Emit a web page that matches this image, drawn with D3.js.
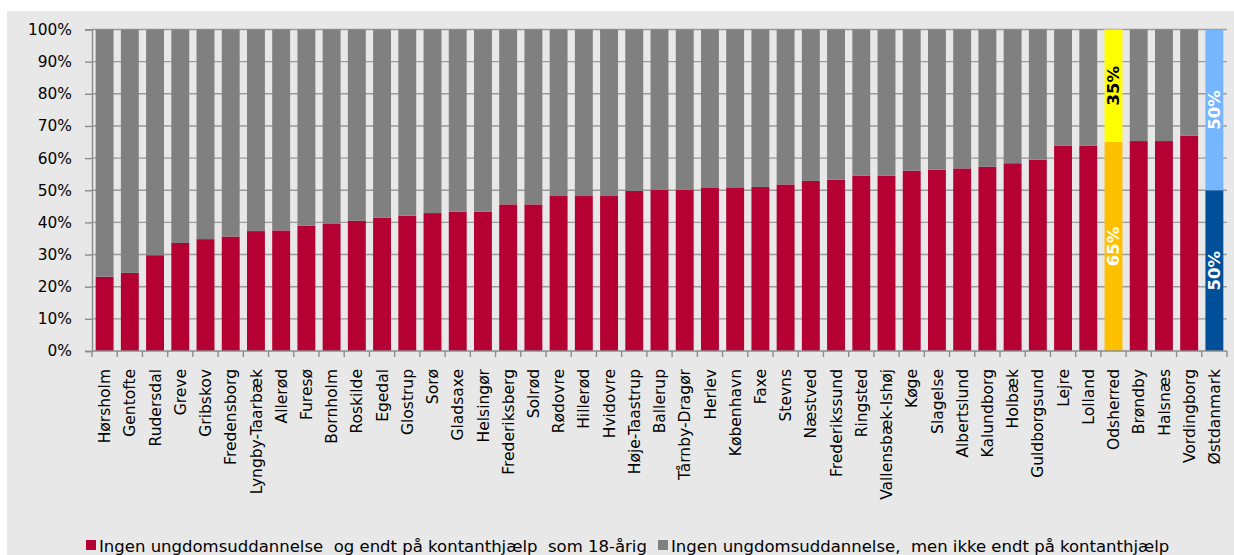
<!DOCTYPE html>
<html><head><meta charset="utf-8">
<script src="https://cdn.jsdelivr.net/npm/d3@7"></script>
<style>
html,body{margin:0;padding:0;background:#fff;}
svg text{font-family:"DejaVu Sans",Verdana,sans-serif;}
</style></head>
<body>
<svg id="c" width="1234" height="555"></svg>
<script>
const categories = ["Hørsholm","Gentofte","Rudersdal","Greve","Gribskov","Fredensborg","Lyngby-Taarbæk","Allerød","Furesø","Bornholm","Roskilde","Egedal","Glostrup","Sorø","Gladsaxe","Helsingør","Frederiksberg","Solrød","Rødovre","Hillerød","Hvidovre","Høje-Taastrup","Ballerup","Tårnby-Dragør","Herlev","København","Faxe","Stevns","Næstved","Frederikssund","Ringsted","Vallensbæk-Ishøj","Køge","Slagelse","Albertslund","Kalundborg","Holbæk","Guldborgsund","Lejre","Lolland","Odsherred","Brøndby","Halsnæs","Vordingborg","Østdanmark"];
const endtKontanthjaelp = [23.1,24.3,29.8,33.6,34.8,35.6,37.3,37.5,39.0,39.5,40.5,41.5,42.1,42.9,43.3,43.3,45.6,45.6,48.2,48.2,48.2,49.8,50.2,50.2,50.7,50.9,51.0,51.8,52.9,53.3,54.5,54.5,56.1,56.4,56.8,57.3,58.4,59.5,63.9,63.9,65.0,65.3,65.3,67.0,50.0];
const ikkeKontanthjaelp = [76.9,75.7,70.2,66.4,65.2,64.4,62.7,62.5,61.0,60.5,59.5,58.5,57.9,57.1,56.7,56.7,54.4,54.4,51.8,51.8,51.8,50.2,49.8,49.8,49.3,49.1,49.0,48.2,47.1,46.7,45.5,45.5,43.9,43.6,43.2,42.7,41.6,40.5,36.1,36.1,35.0,34.7,34.7,33.0,50.0];
const yTicks = [0,10,20,30,40,50,60,70,80,90,100];
const seriesNames = ["Ingen ungdomsuddannelse  og endt på kontanthjælp  som 18-årig","Ingen ungdomsuddannelse,  men ikke endt på kontanthjælp"];
const labeled = {"Odsherred":["65%","35%"],"Østdanmark":["50%","50%"]};

const baseColors = ["#b50034","#808080"];
const specialColors = {"Odsherred":["#ffc000","#ffff00"],"Østdanmark":["#004f98","#75b6ff"]};
const labelColors = {"Odsherred":["#ffffff","#000000"],"Østdanmark":["#ffffff","#ffffff"]};

const svg = d3.select("#c");
svg.append("rect").attr("x",7).attr("y",11).attr("width",1227).attr("height",544).attr("fill","#e8e8e8");

const m = {l:92, r:1227, t:29.5, b:351};
const x = d3.scaleBand().domain(categories).range([m.l,m.r]).paddingInner(0.29).paddingOuter(0.145);
const y = d3.scaleLinear().domain([0,100]).range([m.b,m.t]);

// gridlines
svg.append("g").selectAll("line").data(yTicks.filter(d=>d>0)).join("line")
  .attr("x1",m.l).attr("x2",m.r).attr("y1",d=>y(d)).attr("y2",d=>y(d))
  .attr("stroke","#9a9a9a").attr("stroke-width",1.4);

const stackData = categories.map((c,i)=>({cat:c, v:[endtKontanthjaelp[i], ikkeKontanthjaelp[i]]}));
const g = svg.append("g");
stackData.forEach(d=>{
  let acc=0;
  d.v.forEach((v,s)=>{
    const col = specialColors[d.cat] ? specialColors[d.cat][s] : baseColors[s];
    g.append("rect").attr("x",x(d.cat)).attr("width",x.bandwidth())
      .attr("y",y(acc+v)).attr("height",y(acc)-y(acc+v)).attr("fill",col);
    if(labeled[d.cat]){
      const cx = x(d.cat)+x.bandwidth()/2, cy = y(acc+v/2);
      g.append("text").attr("transform",`translate(${cx},${cy}) rotate(-90)`)
        .attr("text-anchor","middle").attr("dy","0.36em")
        .attr("font-size","16.5px").attr("font-weight","bold")
        .attr("fill",labelColors[d.cat][s]).text(labeled[d.cat][s]);
    }
    acc+=v;
  });
});

// y axis
const ya = svg.append("g").attr("transform",`translate(${m.l},0)`)
  .call(d3.axisLeft(y).tickValues(yTicks).tickFormat(d=>d+"%").tickSize(7).tickPadding(13));
ya.select(".domain").attr("stroke","#8c8c8c").attr("stroke-width",1.4);
ya.selectAll(".tick line").attr("stroke","#8c8c8c").attr("stroke-width",1.4);
ya.selectAll("text").attr("font-size","15.4px").attr("fill","#000").attr("font-family","DejaVu Sans");

// x axis
const xa = svg.append("g").attr("transform",`translate(0,${m.b})`);
xa.append("line").attr("x1",m.l).attr("x2",m.r).attr("stroke","#8c8c8c").attr("stroke-width",1.4);
const bounds = d3.range(categories.length+1).map(i=>m.l + i*x.step());
xa.selectAll(".tk").data(bounds).join("line").attr("class","tk")
  .attr("x1",d=>d).attr("x2",d=>d).attr("y1",0).attr("y2",6)
  .attr("stroke","#8c8c8c").attr("stroke-width",1.4);
xa.selectAll(".lbl").data(categories).join("text").attr("class","lbl")
  .attr("transform",d=>`translate(${x(d)+x.bandwidth()/2},${18}) rotate(-90)`)
  .attr("text-anchor","end").attr("dy","0.36em")
  .attr("font-size","15.5px").attr("fill","#000").text(d=>d);

// legend
const leg = svg.append("g");
const legX = [86, 658];
seriesNames.forEach((n,i)=>{
  leg.append("rect").attr("x",legX[i]).attr("y",540).attr("width",10).attr("height",10).attr("fill",baseColors[i]);
  leg.append("text").attr("x",legX[i]+13).attr("y",551.5).attr("font-size","16.5px").attr("fill","#000")
    .attr("xml:space","preserve").style("white-space","pre").text(n);
});
</script>
</body></html>
